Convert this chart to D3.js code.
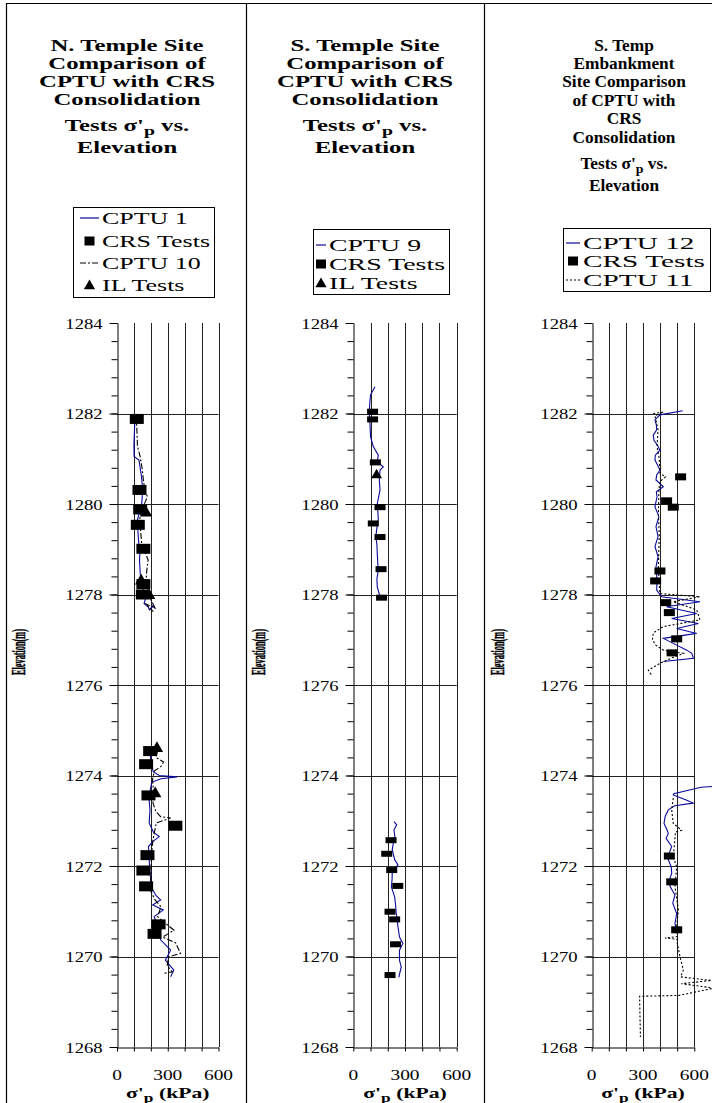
<!DOCTYPE html>
<html>
<head>
<meta charset="utf-8">
<script src="https://cdn.jsdelivr.net/npm/d3@7"></script>
<style>
  body { margin: 0; background: #fff; }
  svg { display: block; }
</style>
</head>
<body>
<svg id="chart" width="712" height="1103"></svg>
<script>
// values are [elevation (m), sigma'p (kPa)]
var elevTicks = [1268, 1270, 1272, 1274, 1276, 1278, 1280, 1282, 1284];
var kpaLabels = [0, 300, 600];
var kpaGrid = [0, 100, 200, 300, 400, 500, 600];

// N. Temple
var cptu1 = [
  [[1281.97,107],[1281.6,103],[1281.3,100],[1281.05,101],[1280.97,130],[1280.6,145],[1280.31,152],[1280.0,146],
   [1279.65,121],[1279.4,124],[1279.2,127],[1278.9,135],[1278.76,133],[1278.47,137],[1278.17,147],[1277.95,172],
   [1277.8,160],[1277.72,185],[1277.66,192],[1277.75,210],[1277.68,228]],
  [[1274.55,200],[1274.4,198],[1274.2,205],[1274.08,215],[1274.0,250],[1273.97,355],[1273.93,260],[1273.85,205],
   [1273.7,198],[1273.55,188],[1273.24,195],[1272.95,190],[1272.75,215],[1272.65,250],[1272.55,215],[1272.43,186],
   [1272.2,190],[1272.0,192],[1271.75,198],[1271.54,202],[1271.35,230],[1271.25,258],[1271.14,211],[1271.03,274],
   [1270.88,220],[1270.7,235],[1270.58,243],[1270.37,258],[1270.14,317],[1269.92,286],[1269.7,336],[1269.55,317]]
];
var cptu10 = [
  [[1281.95,113],[1281.6,118],[1281.27,121],[1281.05,137],[1280.8,148],[1280.53,156],[1280.3,165],[1280.16,180],
   [1279.9,150],[1279.65,133],[1279.4,140],[1279.1,146],[1278.9,170],[1278.76,184],[1278.5,175],[1278.3,172],
   [1278.1,180],[1277.95,192],[1277.7,225],[1277.8,166],[1277.62,215]],
  [[1274.55,240],[1274.4,230],[1274.3,275],[1274.2,260],[1274.1,220],[1273.9,210],[1273.7,215],[1273.39,213],
   [1273.2,230],[1273.09,258],[1273.06,317],[1272.95,232],[1272.57,212],[1272.3,205],[1272.0,202],[1271.7,200],
   [1271.46,198],[1271.25,225],[1271.1,260],[1270.88,240],[1270.58,337],[1270.43,270],[1270.3,347],[1270.07,375],
   [1269.99,305],[1269.8,297],[1269.66,327],[1269.63,280]]
];
var crs1 = [[1281.88,117],[1280.31,133],[1279.88,137],[1279.54,123],[1279.01,156],[1278.23,156],[1278.0,153],
  [1274.54,196],[1274.25,172],[1273.56,186],[1272.89,345],[1272.24,180],[1271.9,156],[1271.55,172],
  [1270.71,246],[1270.5,222]];
var il1 = [[1279.8,172],[1278.3,143],[1277.98,190],[1274.6,236],[1273.6,226]];

// S. Temple
var cptu9 = [
  [[1282.59,126],[1282.41,100],[1282.2,95],[1282.0,93],[1281.75,97],[1281.49,100],[1281.27,116],[1281.08,145],
   [1280.93,139],[1280.82,174],[1280.75,155],[1280.53,151],[1280.31,155],[1280.0,139],[1279.8,143],[1279.65,145],
   [1279.45,136],[1279.28,131],[1279.1,137],[1278.91,139],[1278.7,142],[1278.54,145],[1278.35,137],[1278.17,139],
   [1277.95,155]],
  [[1272.98,236],[1272.91,252],[1272.8,236],[1272.62,242],[1272.5,232],[1272.36,226],[1272.14,240],[1272.03,259],
   [1271.84,226],[1271.7,225],[1271.54,221],[1271.32,240],[1271.15,245],[1270.95,249],[1270.8,255],[1270.66,259],
   [1270.43,268],[1270.29,288],[1270.14,268],[1269.92,268],[1269.77,278],[1269.54,264]]
];
var crs9 = [[1282.04,112],[1281.87,112],[1280.92,128],[1279.93,155],[1279.57,116],[1279.27,155],[1278.56,161],
  [1277.93,164],[1272.57,219],[1272.27,194],[1271.91,223],[1271.56,258],[1270.99,213],[1270.82,240],
  [1270.27,245],[1269.59,213]];
var il9 = [[1280.64,135]];

// S. Temp Embankment
var cptu12 = [
  [[1282.06,532],[1281.97,399],[1281.86,370],[1281.75,378],[1281.64,380],[1281.52,360],[1281.41,364],[1281.3,385],
   [1281.19,399],[1281.08,372],[1280.97,370],[1280.86,385],[1280.75,399],[1280.64,380],[1280.53,376],[1280.38,419],
   [1280.27,378],[1280.16,382],[1279.94,370],[1279.72,393],[1279.5,376],[1279.28,388],[1279.06,370],[1278.84,388],
   [1278.61,376],[1278.32,382],[1278.1,380],[1277.95,409],[1277.84,633],[1277.73,438],[1277.58,614],[1277.47,468],
   [1277.36,624],[1277.25,497],[1277.14,614],[1277.03,419],[1276.92,477],[1276.77,556],[1276.7,585],[1276.59,595],
   [1276.52,419]],
  [[1273.76,720],[1273.74,640],[1273.6,480],[1273.57,477],[1273.45,560],[1273.39,594],[1273.33,485],[1273.24,448],
   [1273.1,430],[1272.94,423],[1272.8,440],[1272.72,448],[1272.61,435],[1272.43,468],[1272.3,455],[1272.14,448],
   [1271.98,465],[1271.84,468],[1271.7,455],[1271.55,458],[1271.36,487],[1271.18,474],[1270.95,497],[1270.73,487],
   [1270.51,501]]
];
var cptu11 = [
  [[1282.0,360],[1282.03,419],[1281.95,370],[1281.64,388],[1281.27,382],[1281.0,395],[1280.68,399],[1280.6,432],
   [1280.5,400],[1280.31,393],[1279.79,390],[1279.3,395],[1279.06,393],[1278.6,390],[1278.32,393],[1278.02,399],
   [1277.95,633],[1277.84,477],[1277.66,614],[1277.44,633],[1277.29,419],[1277.15,360],[1277.0,355],[1276.88,375],
   [1276.77,419],[1276.7,536],[1276.6,470],[1276.48,399],[1276.33,331],[1276.22,350]],
  [[1273.5,477],[1273.24,468],[1272.94,477],[1272.79,526],[1272.75,490],[1272.61,487],[1272.2,477],[1271.98,497],
   [1271.55,487],[1271.03,507],[1270.66,497],[1270.44,501],[1270.41,429],[1270.38,500],[1270.29,501],[1270.0,516],
   [1269.7,536],[1269.55,520],[1269.47,700],[1269.4,525],[1269.3,715],[1269.14,510],[1269.12,280],[1268.22,285]]
];
var crs12 = [[1280.6,520],[1280.07,438],[1279.93,477],[1278.52,399],[1278.3,374],[1277.82,433],[1277.6,454],
  [1277.02,497],[1276.71,470],[1272.22,454],[1271.65,468],[1270.59,497]];

var serif = "'Liberation Serif', 'Times New Roman', serif";
var blue = "#0a0a9a";

var svg = d3.select("#chart");

// text drawn at its natural size, then stretched sideways (sx) or fitted to a width (w)
function stxt(g, x, y, parts, o) {
  var t = g.append("text")
    .attr("text-anchor", o.anchor || "middle")
    .attr("font-family", serif)
    .attr("font-size", o.size)
    .attr("font-weight", o.bold ? "bold" : "normal")
    .attr("fill", "#000");
  if (typeof parts === "string") parts = [[parts, 0]];
  parts.forEach(function(p) {
    t.append("tspan").attr("dy", p[1] === 1 ? 4 : (p[1] === -1 ? -4 : 0))
      .attr("font-size", p[1] === 1 ? o.size * 0.8 : o.size).text(p[0]);
  });
  var sx = o.w ? o.w / t.node().getComputedTextLength() : o.sx;
  t.attr("transform", "translate(" + x + "," + y + ")" + (o.rot ? " rotate(" + o.rot + ")" : "") + " scale(" + sx + ",1)");
  return t;
}
function natural(str, size) {
  var t = svg.append("text").attr("font-family", serif).attr("font-size", size).text(str);
  var w = t.node().getComputedTextLength();
  t.remove();
  return w;
}
var sigTitle = [["Tests \u03c3'", 0], ["p", 1], [" vs.", -1]];
var sigAxis = [["\u03c3'", 0], ["p", 1], [" (kPa)", -1]];

var panels = [
  { left: 117, right: 218.5, cx: 127, yTitleX: 19, titleSx: 1.5,
    title: ["N. Temple Site", "Comparison of", "CPTU with CRS", "Consolidation", sigTitle, "Elevation"],
    titleY: [45, 63, 81.5, 99, 125.5, 147.5],
    box: [73, 207, 141, 90], legX: 80, legW: 19, legY: [218, 241, 263, 285], legTextW: 108,
    legend: [{n: "CPTU 1", t: "line", c: blue}, {n: "CRS Tests", t: "sq"}, {n: "CPTU 10", t: "line", c: "#000", dash: "6,2,2,2"}, {n: "IL Tests", t: "tri"}],
    lines: [{d: cptu1, c: blue}, {d: cptu10, c: "#000", dash: "6,2,2,2"}],
    crs: crs1, il: il1, sq: [14, 10], tri: 66 },
  { left: 353.3, right: 456.7, cx: 365, yTitleX: 259, titleSx: 1.5,
    title: ["S. Temple Site", "Comparison of", "CPTU with CRS", "Consolidation", sigTitle, "Elevation"],
    titleY: [45, 63, 81.5, 99, 125.5, 147.5],
    box: [313, 229, 136, 65], legX: 316, legW: 10, legY: [245, 264, 283], legTextW: 116,
    legend: [{n: "CPTU 9", t: "line", c: blue}, {n: "CRS Tests", t: "sq"}, {n: "IL Tests", t: "tri"}],
    lines: [{d: cptu9, c: blue}],
    crs: crs9, il: il9, sq: [11, 6], tri: 50 },
  { left: 591.7, right: 694.3, cx: 624, yTitleX: 498, titleSx: 1.05,
    title: ["S. Temp", "Embankment", "Site Comparison", "of CPTU with", "CRS", "Consolidation", sigTitle, "Elevation"],
    titleY: [45, 63.5, 81.5, 100, 118.5, 137, 163, 185.5],
    box: [563, 228, 147, 63], legX: 566, legW: 14, legY: [243, 261, 280], legTextW: 122,
    legend: [{n: "CPTU 12", t: "line", c: blue}, {n: "CRS Tests", t: "sq"}, {n: "CPTU 11", t: "line", c: "#000", dash: "2,2"}],
    lines: [{d: cptu12, c: blue}, {d: cptu11, c: "#000", dash: "2,2"}],
    crs: crs12, il: [], sq: [11, 7], tri: 50 }
];

// frame
svg.append("line").attr("x1", 6).attr("x2", 712).attr("y1", 3.5).attr("y2", 3.5).attr("stroke", "#000");
[6.5, 246.5, 484.5].forEach(function(x) {
  svg.append("line").attr("x1", x).attr("x2", x).attr("y1", 3).attr("y2", 1103).attr("stroke", "#000").attr("stroke-width", 1.2);
});

var y = d3.scaleLinear().domain([1268, 1284]).range([1047, 323]);
var minorElev = d3.range(1268, 1284.01, 0.4).map(function(v) { return +v.toFixed(1); });

panels.forEach(function(p) {
  var x = d3.scaleLinear().domain([0, 600]).range([p.left, p.right]);
  var g = svg.append("g");

  // titles
  p.title.forEach(function(s, i) {
    stxt(g, p.cx, p.titleY[i] + 5.5, s, {size: 16.5, sx: p.titleSx, bold: true});
  });

  // legend
  var legSx = p.legTextW / natural("CRS Tests", 16);
  g.append("rect").attr("x", p.box[0] + 0.5).attr("y", p.box[1] + 0.5).attr("width", p.box[2]).attr("height", p.box[3])
    .attr("fill", "#fff").attr("stroke", "#000");
  p.legend.forEach(function(it, i) {
    var ly = p.legY[i], mx = p.legX + p.legW / 2;
    if (it.t === "line") {
      g.append("line").attr("x1", p.legX).attr("x2", p.legX + p.legW).attr("y1", ly).attr("y2", ly)
        .attr("stroke", it.c).attr("stroke-width", 1.2).attr("stroke-dasharray", it.dash || null);
    } else if (it.t === "sq") {
      g.append("rect").attr("x", mx - 5).attr("y", ly - 4.5).attr("width", 10).attr("height", 9).attr("fill", "#000");
    } else {
      g.append("path").attr("d", d3.symbol(d3.symbolTriangle, 55)()).attr("transform", "translate(" + mx + "," + (ly + 1) + ")");
    }
    stxt(g, p.legX + p.legW + 3, ly + 5.5, it.n, {size: 16, sx: legSx, anchor: "start"});
  });

  // grid
  g.selectAll(".vg").data(kpaGrid.slice(1)).enter().append("line")
    .attr("x1", function(d) { return Math.round(x(d)) + 0.5; }).attr("x2", function(d) { return Math.round(x(d)) + 0.5; })
    .attr("y1", y(1284)).attr("y2", y(1268)).attr("stroke", "#222");
  g.selectAll(".hg").data(elevTicks.slice(1, -1)).enter().append("line")
    .attr("x1", x(0)).attr("x2", x(600))
    .attr("y1", function(d) { return Math.round(y(d)) + 0.5; }).attr("y2", function(d) { return Math.round(y(d)) + 0.5; })
    .attr("stroke", "#222");

  // y axis: minor + major ticks
  var ax = Math.round(x(0)) + 0.5;
  g.append("g").attr("transform", "translate(" + ax + ",0)")
    .call(d3.axisLeft(y).tickValues(minorElev).tickSize(6).tickSizeOuter(0).tickFormat(""))
    .call(function(s) { s.selectAll("line").attr("stroke", "#000"); s.select(".domain").attr("stroke", "#000"); });
  var ya = g.append("g").attr("transform", "translate(" + ax + ",0)")
    .call(d3.axisLeft(y).tickValues(elevTicks).tickSize(8).tickSizeOuter(0).tickFormat(d3.format("d")));
  ya.select(".domain").remove();
  ya.selectAll("line").attr("stroke", "#000");
  ya.selectAll("text").attr("font-family", serif).attr("font-size", 15.5).attr("fill", "#000")
    .attr("x", -15 / 1.2).attr("dy", "0.35em").attr("transform", "scale(1.2,1)");

  // x axis
  var xa = g.append("g").attr("transform", "translate(0," + (Math.round(y(1268)) + 0.5) + ")")
    .call(d3.axisBottom(x).tickValues(kpaGrid).tickSize(4).tickSizeOuter(0).tickFormat(""));
  xa.selectAll("line, path").attr("stroke", "#000");
  kpaLabels.forEach(function(v) {
    stxt(g, x(v), 1080, String(v), {size: 15.5, sx: 1.25});
  });
  stxt(g, (x(0) + x(600)) / 2, 1098, sigAxis, {size: 15.5, sx: 1.4, bold: true});

  // y title, squeezed along its length as in the original
  stxt(g, p.yTitleX + 6, 652, "Elevation(m)", {size: 18, w: 46, bold: true, rot: -90})
    .attr("stroke", "#000").attr("stroke-width", 0.5);

  // CPTU traces
  var line = d3.line().x(function(d) { return x(d[1]); }).y(function(d) { return y(d[0]); });
  p.lines.forEach(function(L) {
    L.d.forEach(function(seg) {
      g.append("path").attr("d", line(seg)).attr("fill", "none").attr("stroke", L.c)
        .attr("stroke-width", 1.1).attr("stroke-dasharray", L.dash || null);
    });
  });

  // CRS tests
  g.selectAll(".crs").data(p.crs).enter().append("rect")
    .attr("x", function(d) { return x(d[1]) - p.sq[0] / 2; })
    .attr("y", function(d) { return y(d[0]) - p.sq[1] / 2; })
    .attr("width", p.sq[0]).attr("height", p.sq[1]).attr("fill", "#000");

  // IL tests
  g.selectAll(".il").data(p.il).enter().append("path")
    .attr("d", d3.symbol(d3.symbolTriangle, p.tri)())
    .attr("transform", function(d) { return "translate(" + x(d[1]) + "," + y(d[0]) + ")"; })
    .attr("fill", "#000");
});
</script>
</body>
</html>
